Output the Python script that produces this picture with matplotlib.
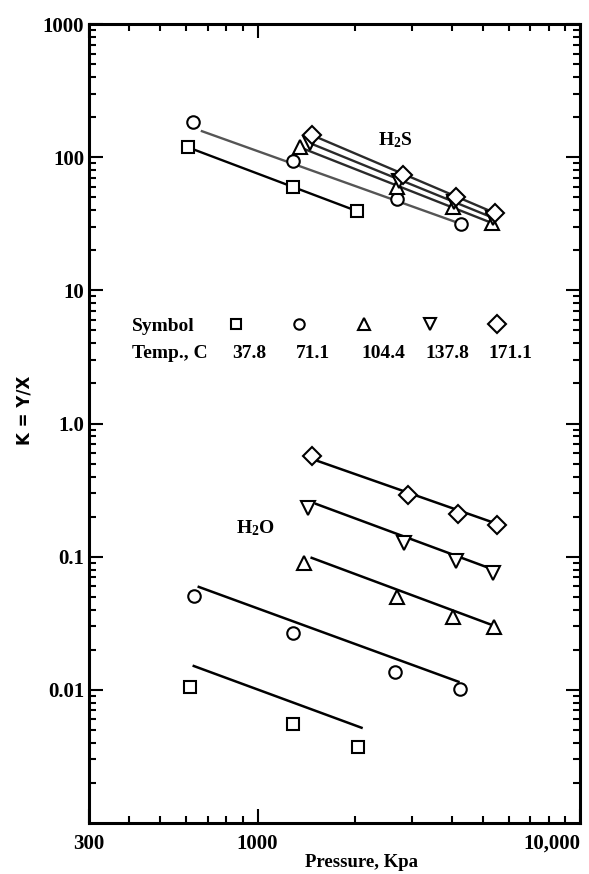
import matplotlib
matplotlib.use('Agg')
import matplotlib.pyplot as plt
import numpy as np
from matplotlib.ticker import FixedLocator, LogLocator, NullFormatter

# K = Y/X de H2S y H2O vs presion, a 5 temperaturas

temps = ['37.8', '71.1', '104.4', '137.8', '171.1']
simbolos = ['s', 'o', '^', 'v', 'D']

# H2S (puntos)
h2s_p = [
    [607, 1284, 2028],
    [630, 1284, 2697, 4284],
    [1350, 2700, 4020, 5341],
    [1449, 2750, 4070, 5383],
    [1471, 2814, 4134, 5459],
]
h2s_k = [
    [119, 59.8, 39.5],
    [184, 93.6, 48.5, 31.5],
    [119, 59.8, 42.3, 32.0],
    [128, 66.0, 46.0, 35.0],
    [147, 73.5, 50.2, 38.0],
]
# H2S (rectas)
h2s_linea_p = [[607, 2028], [672, 4284], [1350, 5341], [1449, 5383], [1471, 5459]]
h2s_linea_k = [[119, 39.5], [157, 31.5], [119, 32.0], [128, 35.0], [147, 38.0]]

# H2O (puntos)
h2o_p = [
    [616, 1283, 2041],
    [634, 1283, 2659, 4254],
    [1389, 2700, 4047, 5421],
    [1429, 2853, 4107, 5383],
    [1471, 2917, 4194, 5539],
]
h2o_k = [
    [0.01054, 0.00556, 0.00373],
    [0.0508, 0.0268, 0.0136, 0.0102],
    [0.0898, 0.0499, 0.0353, 0.0297],
    [0.232, 0.127, 0.0930, 0.0755],
    [0.571, 0.291, 0.2095, 0.173],
]
# H2O (rectas de ajuste)
h2o_linea_p = [[634, 2100], [657, 4194], [1471, 5307], [1518, 5307], [1503, 5539]]
h2o_linea_k = [[0.0151, 0.00519], [0.0593, 0.0115], [0.098, 0.0308], [0.249, 0.0810], [0.533, 0.176]]

xticks = [300, 1000, 10000]
xticklabels = ['300', '1000', '10,000']
yticks = [0.01, 0.1, 1, 10, 100, 1000]
yticklabels = ['0.01', '0.1', '1.0', '10', '100', '1000']

plt.rcParams['font.family'] = ['Liberation Serif', 'DejaVu Serif']
plt.rcParams['font.weight'] = 'bold'
plt.rcParams['mathtext.default'] = 'regular'

fig = plt.figure(figsize=(5.89, 8.74), dpi=100)
ax = fig.add_axes([0.151, 0.0584, 0.834, 0.914])
ax.set_xscale('log')
ax.set_yscale('log')
ax.set_xlim(300, 10000)
ax.set_ylim(0.001, 1000)

tamanos = [9, 9, 9.5, 9.5, 9.5]
colores_h2s = ['black', '#555555', '#2a2a2a', '#2a2a2a', '#2a2a2a']

for i in range(5):
    ax.plot(h2s_linea_p[i], h2s_linea_k[i], '-', color=colores_h2s[i], lw=1.7, zorder=2)
    ax.plot(h2s_p[i], h2s_k[i], linestyle='none', marker=simbolos[i], ms=tamanos[i],
            mfc='white', mec='black', mew=1.5, zorder=3)
    ax.plot(h2o_linea_p[i], h2o_linea_k[i], '-', color='black', lw=1.8, zorder=2)
    ax.plot(h2o_p[i], h2o_k[i], linestyle='none', marker=simbolos[i], ms=tamanos[i],
            mfc='white', mec='black', mew=1.5, zorder=3)

# leyenda hecha a mano
leg_x = [0.299, 0.428, 0.560, 0.694, 0.831]
leg_tx = [0.326, 0.456, 0.599, 0.729, 0.857]
leg_ms = [7, 7.5, 8, 8, 9]
ax.text(0.0876, 0.621, 'Symbol', transform=ax.transAxes, fontsize=14,
        ha='left', va='center')
ax.text(0.0876, 0.588, 'Temp., C', transform=ax.transAxes, fontsize=14,
        ha='left', va='center')
for i in range(5):
    ax.plot(leg_x[i], 0.624, marker=simbolos[i], ms=leg_ms[i], mfc='white', mec='black',
            mew=1.5, transform=ax.transAxes, clip_on=False)
    ax.text(leg_tx[i], 0.588, temps[i], transform=ax.transAxes, fontsize=14,
            ha='center', va='center')

ax.text(0.623, 0.855, 'H$_2$S', transform=ax.transAxes, fontsize=14, ha='center', va='center')
ax.text(0.338, 0.369, 'H$_2$O', transform=ax.transAxes, fontsize=14, ha='center', va='center')

# ejes
ax.xaxis.set_major_locator(FixedLocator(xticks))
ax.set_xticklabels(xticklabels)
ax.xaxis.set_minor_locator(LogLocator(base=10, subs=np.arange(2, 10)))
ax.xaxis.set_minor_formatter(NullFormatter())
ax.yaxis.set_major_locator(FixedLocator(yticks))
ax.set_yticklabels(yticklabels)
ax.yaxis.set_minor_locator(LogLocator(base=10, subs=np.arange(2, 10)))
ax.yaxis.set_minor_formatter(NullFormatter())

ax.tick_params(which='both', direction='in', top=True, right=True, width=1.5,
               labelsize=15)
ax.tick_params(which='major', length=10)
ax.tick_params(which='minor', length=5)
ax.tick_params(axis='x', pad=8)
lbls = ax.get_xticklabels()
lbls[-1].set_horizontalalignment('right')

for s in ax.spines.values():
    s.set_linewidth(2.2)

fig.text(0.613, 0.0126, 'Pressure, Kpa', fontsize=13.5, ha='center', va='center',
         weight='bold')
fig.text(0.041, 0.531, 'K = Y/X', rotation=90, fontsize=12, ha='center', va='center',
         family='DejaVu Sans', weight='bold')

plt.savefig('out.png', dpi=100)
